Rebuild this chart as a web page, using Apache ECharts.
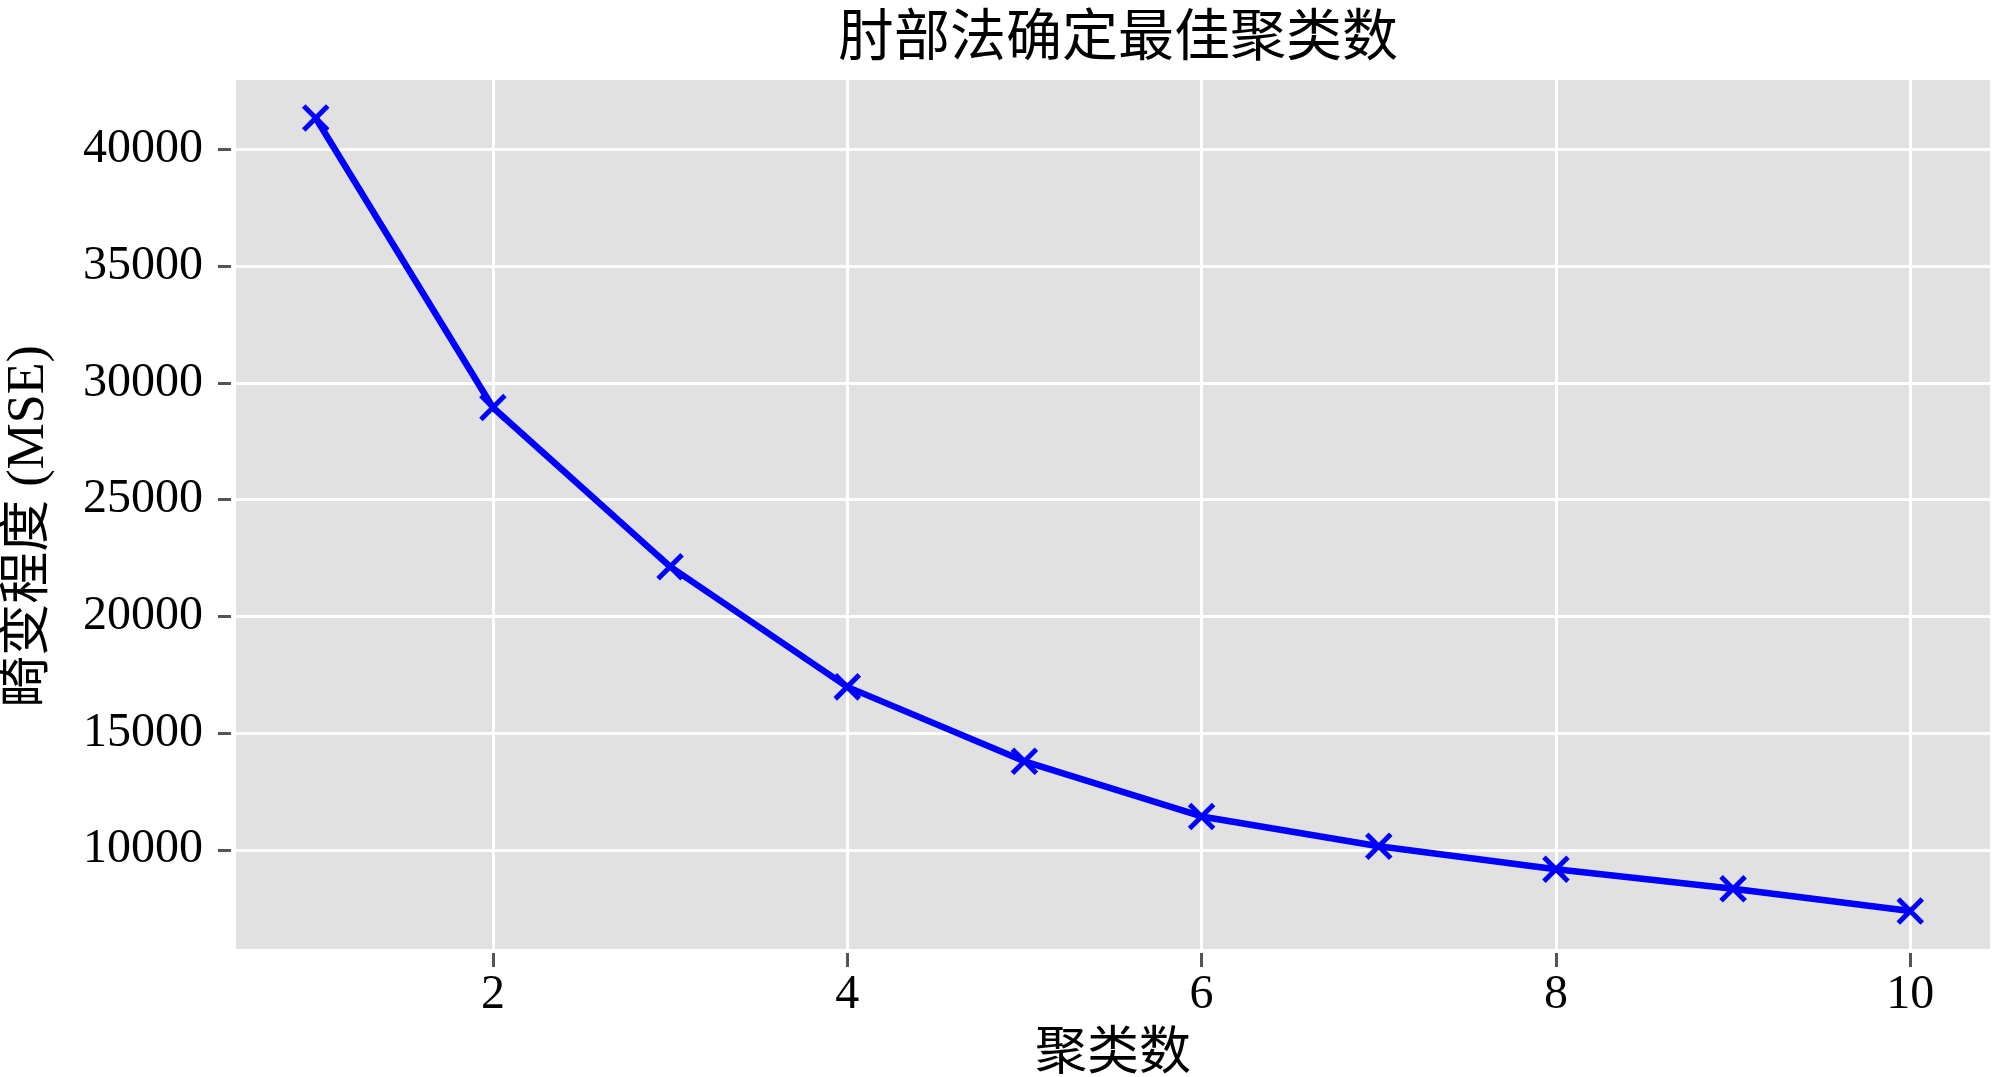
<!DOCTYPE html>
<html>
<head>
<meta charset="utf-8">
<title>肘部法确定最佳聚类数</title>
<script src="https://cdn.jsdelivr.net/npm/echarts@6/dist/echarts.min.js"></script>
<style>
  html, body { margin: 0; padding: 0; background: #fff; }
  #chart { width: 2000px; height: 1077px; }
</style>
</head>
<body>
<div id="chart"></div>
<script>
// 数据
const clusterCounts = [1, 2, 3, 4, 5, 6, 7, 8, 9, 10];
const mseValues = [41350, 28950, 22130, 16980, 13790, 11430, 10150, 9170, 8330, 7380];
const xTicks = [2, 4, 6, 8, 10];
const yTicks = [10000, 15000, 20000, 25000, 30000, 35000, 40000];

const serifFont = '"Liberation Serif", "Noto Sans CJK SC", serif';

const chart = echarts.init(document.getElementById('chart'));

const option = {
    animation: false,
    backgroundColor: '#ffffff',
    title: {
        text: '肘部法确定最佳聚类数',
        left: 1113,
        textAlign: 'center',
        top: 1,
        textStyle: {
            fontFamily: '"Noto Sans CJK SC", serif',
            fontSize: 56,
            fontWeight: 'normal',
            color: '#000'
        }
    },
    grid: {
        left: 236,
        right: 10,
        top: 80,
        bottom: 128,
        outerBoundsMode: 'none',
        containLabel: false,
        show: true,
        backgroundColor: '#e1e1e1',
        borderWidth: 0
    },
    xAxis: {
        type: 'value',
        min: 0.55,
        max: 10.45,
        offset: 4,
        name: '聚类数',
        nameLocation: 'middle',
        nameGap: 76,
        nameTextStyle: {
            fontFamily: serifFont,
            fontSize: 52,
            color: '#000'
        },
        axisLine: { show: false },
        axisTick: {
            show: true,
            length: 14,
            customValues: xTicks,
            lineStyle: { color: '#555', width: 3 }
        },
        axisLabel: {
            customValues: xTicks,
            margin: 18,
            fontFamily: serifFont,
            fontSize: 48,
            color: '#000'
        },
        splitLine: {
            show: true,
            lineStyle: { color: '#ffffff', width: 3 }
        }
    },
    yAxis: {
        type: 'value',
        min: 5750,
        max: 42980,
        offset: 5,
        name: '畸变程度 (MSE)',
        nameLocation: 'middle',
        nameGap: 176,
        nameRotate: 90,
        nameTextStyle: {
            fontFamily: serifFont,
            fontSize: 52,
            color: '#000',
            padding: [0, 24, 0, 0]
        },
        axisLine: { show: false },
        axisTick: {
            show: true,
            length: 13,
            customValues: yTicks,
            lineStyle: { color: '#555', width: 3 }
        },
        axisLabel: {
            customValues: yTicks,
            margin: 28,
            fontFamily: serifFont,
            fontSize: 48,
            color: '#000',
            formatter: v => String(v)
        },
        splitLine: {
            show: true,
            lineStyle: { color: '#ffffff', width: 3 }
        }
    },
    series: [
        {
            type: 'line',
            data: clusterCounts.map((k, i) => [k, mseValues[i]]),
            symbol: 'path://M0,0L10,10M10,0L0,10',
            symbolSize: 24,
            showSymbol: true,
            lineStyle: { color: '#0000ff', width: 6.5 },
            itemStyle: {
                color: '#0000ff',
                borderColor: '#0000ff',
                borderWidth: 5
            },
            emphasis: { disabled: true }
        }
    ]
};

chart.setOption(option);
</script>
</body>
</html>
